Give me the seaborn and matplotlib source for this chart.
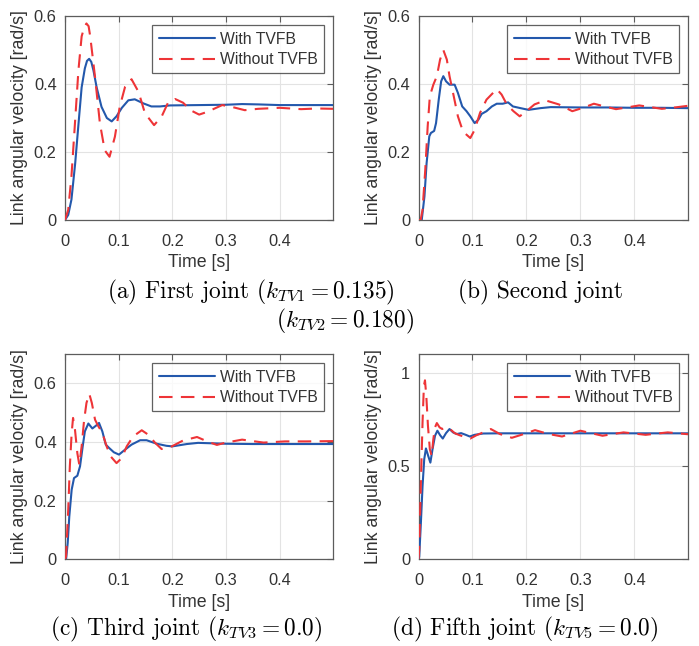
import numpy as np
import pandas as pd
import matplotlib
matplotlib.use("Agg")
import matplotlib.pyplot as plt
import seaborn as sns
from matplotlib.ticker import FixedLocator, FuncFormatter

# ---------------- data ----------------
series_labels = ["With TVFB", "Without TVFB"]

# (a) First joint
a_with_t = [0, 0.006, 0.012, 0.019, 0.025, 0.031, 0.037, 0.041, 0.045, 0.049, 0.053, 0.059, 0.068, 0.078, 0.087, 0.096,
            0.106, 0.118, 0.130, 0.146, 0.161, 0.177, 0.196, 0.25, 0.3, 0.33, 0.36, 0.4, 0.45, 0.5]
a_with_v = [0, 0.015, 0.06, 0.167, 0.28, 0.39, 0.446, 0.468, 0.474, 0.465, 0.44, 0.39, 0.333, 0.30, 0.29, 0.305,
            0.33, 0.352, 0.355, 0.343, 0.334, 0.334, 0.337, 0.338, 0.339, 0.341, 0.340, 0.338, 0.338, 0.338]
a_wo_t = [0, 0.006, 0.012, 0.019, 0.025, 0.031, 0.036, 0.040, 0.044, 0.047, 0.056, 0.065, 0.074, 0.083, 0.093, 0.102,
          0.112, 0.124, 0.137, 0.149, 0.166, 0.180, 0.192, 0.205, 0.22, 0.235, 0.25, 0.265, 0.293, 0.31,
          0.335, 0.36, 0.4, 0.44, 0.47, 0.5]
a_wo_v = [0, 0.03, 0.128, 0.295, 0.44, 0.54, 0.568, 0.578, 0.57, 0.54, 0.42, 0.285, 0.205, 0.186, 0.245, 0.333,
          0.392, 0.414, 0.377, 0.314, 0.279, 0.304, 0.345, 0.356, 0.345, 0.322, 0.310, 0.318, 0.338, 0.333,
          0.323, 0.327, 0.330, 0.326, 0.328, 0.327]

# (b) Second joint
b_with_t = [0, 0.006, 0.011, 0.015, 0.020, 0.023, 0.029, 0.0325, 0.0375, 0.042, 0.046, 0.051, 0.0575, 0.067,
            0.073, 0.081, 0.089, 0.096, 0.104, 0.111, 0.117, 0.126, 0.136, 0.145, 0.156, 0.166, 0.175, 0.189,
            0.204, 0.226, 0.245, 0.3, 0.35, 0.4, 0.45, 0.5]
b_with_v = [0, 0, 0.069, 0.167, 0.246, 0.256, 0.262, 0.285, 0.354, 0.408, 0.423, 0.408, 0.398, 0.398,
            0.374, 0.334, 0.32, 0.305, 0.285, 0.295, 0.312, 0.32, 0.334, 0.342, 0.342, 0.346, 0.334, 0.329,
            0.324, 0.329, 0.332, 0.331, 0.331, 0.330, 0.330, 0.329]
b_wo_t = [0, 0.004, 0.0075, 0.0125, 0.017, 0.021, 0.0275, 0.034, 0.040, 0.046, 0.0525, 0.0575, 0.064, 0.073,
          0.0825, 0.096, 0.104, 0.114, 0.126, 0.145, 0.154, 0.164, 0.176, 0.1875, 0.2, 0.215, 0.235, 0.26,
          0.285, 0.305, 0.325, 0.345, 0.366, 0.39, 0.409, 0.43, 0.451, 0.475, 0.5]
b_wo_v = [0, 0, 0.03, 0.147, 0.275, 0.364, 0.398, 0.423, 0.472, 0.50, 0.472, 0.423, 0.374, 0.305,
          0.26, 0.241, 0.265, 0.315, 0.354, 0.385, 0.369, 0.339, 0.32, 0.305, 0.32, 0.34, 0.352, 0.34,
          0.32, 0.33, 0.342, 0.334, 0.326, 0.332, 0.337, 0.332, 0.327, 0.331, 0.336]

# (c) Third joint
c_with_t = [0, 0.002, 0.005, 0.008, 0.0124, 0.0168, 0.023, 0.028, 0.033, 0.037, 0.0435, 0.051, 0.058, 0.0634,
            0.0696, 0.076, 0.0826, 0.091, 0.1006, 0.112, 0.124, 0.14, 0.152, 0.171, 0.189, 0.2, 0.227, 0.248,
            0.3, 0.35, 0.4, 0.45, 0.5]
c_with_v = [0, 0, 0.055, 0.146, 0.237, 0.277, 0.285, 0.317, 0.385, 0.436, 0.463, 0.446, 0.456, 0.465,
            0.436, 0.391, 0.379, 0.365, 0.357, 0.374, 0.391, 0.406, 0.406, 0.394, 0.387, 0.385, 0.393, 0.397,
            0.394, 0.393, 0.393, 0.393, 0.393]
c_wo_t = [0, 0.002, 0.006, 0.009, 0.0124, 0.015, 0.0186, 0.023, 0.0267, 0.031, 0.0354, 0.040, 0.0453, 0.05,
          0.056, 0.062, 0.0696, 0.0776, 0.085, 0.096, 0.1056, 0.115, 0.127, 0.143, 0.155, 0.168, 0.18, 0.199,
          0.22, 0.246, 0.265, 0.283, 0.3, 0.33, 0.37, 0.41, 0.45, 0.5]
c_wo_v = [0, 0.01, 0.169, 0.317, 0.43, 0.482, 0.442, 0.362, 0.322, 0.385, 0.471, 0.533, 0.564, 0.533,
          0.476, 0.454, 0.431, 0.385, 0.351, 0.328, 0.345, 0.385, 0.419, 0.44, 0.425, 0.397, 0.376, 0.385,
          0.405, 0.417, 0.402, 0.39, 0.398, 0.408, 0.398, 0.402, 0.402, 0.403]

# (d) Fifth joint
d_with_t = [0, 0.0013, 0.0044, 0.0075, 0.0106, 0.0138, 0.018, 0.022, 0.026, 0.0306, 0.035, 0.040, 0.045, 0.051,
            0.0575, 0.064, 0.071, 0.079, 0.0875, 0.095, 0.104, 0.12, 0.15, 0.2, 0.3, 0.4, 0.5]
d_with_v = [0, 0.014, 0.194, 0.392, 0.536, 0.594, 0.554, 0.518, 0.59, 0.662, 0.689, 0.665, 0.647, 0.676,
            0.698, 0.68, 0.671, 0.676, 0.667, 0.658, 0.667, 0.674, 0.675, 0.675, 0.675, 0.675, 0.675]
d_wo_t = [0, 0.0013, 0.0044, 0.0075, 0.010, 0.012, 0.0144, 0.0175, 0.021, 0.0244, 0.0275, 0.0306, 0.034, 0.039,
          0.044, 0.049, 0.0575, 0.067, 0.076, 0.089, 0.096, 0.1075, 0.12, 0.134, 0.151, 0.173, 0.195, 0.216,
          0.24, 0.266, 0.30, 0.341, 0.38, 0.421, 0.462, 0.5]
d_wo_v = [0, 0.05, 0.41, 0.734, 0.93, 0.959, 0.878, 0.716, 0.59, 0.554, 0.644, 0.707, 0.73, 0.707,
          0.698, 0.707, 0.70, 0.676, 0.665, 0.653, 0.647, 0.665, 0.68, 0.698, 0.671, 0.651, 0.671, 0.692,
          0.672, 0.658, 0.689, 0.662, 0.68, 0.667, 0.68, 0.67]

x_ticks = [0, 0.1, 0.2, 0.3, 0.4]
y_ticks_ab = [0, 0.2, 0.4, 0.6]
y_ticks_c = [0, 0.2, 0.4, 0.6]
y_ticks_d = [0, 0.5, 1]

captions = [r"(a) First joint $(k_{TV1} = 0.135)$",
            r"(b) Second joint",
            r"$(k_{TV2} = 0.180)$",
            r"(c) Third joint $(k_{TV3} = 0.0)$",
            r"(d) Fifth joint $(k_{TV5} = 0.0)$"]

# ---------------- style ----------------
sns.set_style("white")
plt.rcParams["font.family"] = ["Liberation Sans", "DejaVu Sans"]
plt.rcParams["mathtext.fontset"] = "cm"

BLUE = "#2358AC"
RED = "#EE3437"
SPINE = "#5c5c5c"
TXT = "#333333"

fig = plt.figure(figsize=(6.99, 6.46), dpi=100)
W, H = 699, 646


def axes_px(l, t, r, b):
    return fig.add_axes([l / W, 1 - b / H, (r - l) / W, (b - t) / H])


ax_a = axes_px(65, 16, 333.3, 220)
ax_b = axes_px(418.5, 16, 688.3, 220)
ax_c = axes_px(65, 354, 333.3, 559.3)
ax_d = axes_px(418.5, 354, 688.3, 559.3)

panels = [
    (ax_a, a_with_t, a_with_v, a_wo_t, a_wo_v, 0.6, y_ticks_ab),
    (ax_b, b_with_t, b_with_v, b_wo_t, b_wo_v, 0.6, y_ticks_ab),
    (ax_c, c_with_t, c_with_v, c_wo_t, c_wo_v, 0.7, y_ticks_c),
    (ax_d, d_with_t, d_with_v, d_wo_t, d_wo_v, 1.1, y_ticks_d),
]

fmt = FuncFormatter(lambda v, p: "%g" % v)

for ax, wt, wv, ot, ov, ymax, yt in panels:
    df = pd.concat([
        pd.DataFrame({"t": wt, "v": wv, "s": series_labels[0]}),
        pd.DataFrame({"t": ot, "v": ov, "s": series_labels[1]}),
    ])
    sns.lineplot(data=df[df.s == series_labels[0]], x="t", y="v", ax=ax, color=BLUE,
                 lw=1.5, label=series_labels[0], estimator=None, sort=False, zorder=3)
    sns.lineplot(data=df[df.s == series_labels[1]], x="t", y="v", ax=ax, color=RED,
                 lw=1.5, label=series_labels[1], estimator=None, sort=False, zorder=4)
    ax.lines[-1].set_dashes([6.5, 4])
    for ln in ax.lines:
        ln.set_solid_joinstyle("round")
        ln.set_dash_joinstyle("round")
    ax.set_xlim(0, 0.5)
    ax.set_ylim(0, ymax)
    ax.xaxis.set_major_locator(FixedLocator(x_ticks))
    ax.yaxis.set_major_locator(FixedLocator(yt))
    ax.xaxis.set_major_formatter(fmt)
    ax.yaxis.set_major_formatter(fmt)
    ax.grid(True, color="#e3e3e3", lw=0.8, zorder=0)
    ax.set_axisbelow(True)
    for sp in ax.spines.values():
        sp.set_color(SPINE)
        sp.set_linewidth(0.9)
    ax.tick_params(direction="in", length=4, width=0.8, color=SPINE, labelcolor=TXT,
                   labelsize=11.8, top=True, right=True)
    ax.tick_params(axis="x", pad=10)
    ax.tick_params(axis="y", pad=6)
    ax.set_xlabel("Time [s]", fontsize=12.8, color=TXT, labelpad=4)
    ax.set_ylabel("Link angular velocity [rad/s]", fontsize=12.8, color=TXT, labelpad=4)
    leg = ax.legend(loc="upper right", fontsize=11.3, frameon=True, fancybox=False,
                    handlelength=3.6, handletextpad=0.3, borderpad=0.4, labelspacing=0.35,
                    borderaxespad=0.6)
    leg.get_frame().set_edgecolor("#3a3a3a")
    leg.get_frame().set_linewidth(0.9)
    for txt in leg.get_texts():
        txt.set_color(TXT)
    leg.get_lines()[1].set_dashes([6.5, 4])

cap_kw = dict(fontsize=16.8, fontfamily="cmr10", ha="center", va="center", color="black")
fig.text(251 / W, 1 - 292 / H, captions[0], **cap_kw)
fig.text(540 / W, 1 - 292 / H, captions[1], **cap_kw)
fig.text(345 / W, 1 - 321 / H, captions[2], **cap_kw)
fig.text(186 / W, 1 - 629 / H, captions[3], **cap_kw)
fig.text(525 / W, 1 - 629 / H, captions[4], **cap_kw)

fig.savefig("out.png", dpi=100)
